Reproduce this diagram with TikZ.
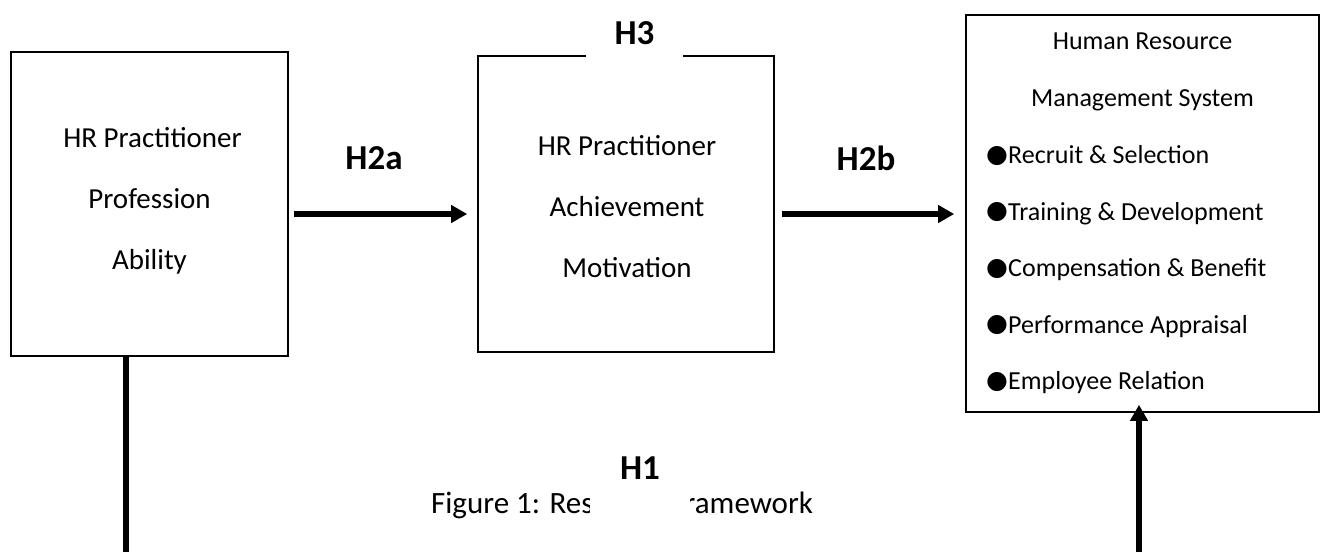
\documentclass[tikz,border=0pt]{standalone}
\usepackage{fontspec}
\setmainfont{Carlito}
\newfontfamily\dv{DejaVu Sans}
\usetikzlibrary{arrows.meta,positioning,calc}
\newcommand{\blt}{{\dv\fontsize{25}{25}\selectfont\makebox[20pt][l]{\hspace*{-2pt}\raisebox{1.5pt}{●}}}}
\begin{document}
\begin{tikzpicture}[x=1pt,y=-1pt,
  box/.style={draw=black, line width=1.6pt, minimum width=#1, inner sep=0pt},
  boxtext/.style={font=\fontsize{29}{61}\selectfont, align=center, inner sep=0pt},
  lbl/.style={font=\bfseries\fontsize{35}{35}\selectfont, inner sep=0pt},
  arr/.style={line width=5.5pt, -{Triangle[length=16pt,width=17pt]}},
  thick line/.style={line width=6pt}
]
\useasboundingbox (0,0) rectangle (1322,552);
% boxes
\node[box=277pt, minimum height=304pt] (lbox) at (149.5,204) {};
\node[box=296pt, minimum height=296pt] (mbox) at (626,204) {};
\node[box=353pt, minimum height=397pt] (rbox) at (1142.5,213.5) {};
% box texts
\node[boxtext] (ltext) at (149.5,201) {\hspace*{6pt}HR Practitioner\\Profession\\Ability};
\node[boxtext] (mtext) at (627,207) {HR Practitioner\\Achievement\\Motivation};
\node[font=\fontsize{26}{56.5}\selectfont, align=center, inner sep=0pt] (rhead) at (1142.5,72) {Human Resource\\Management System};
\node[font=\fontsize{26}{56.5}\selectfont, align=left, inner sep=0pt, anchor=west] (rlist) at (988,270)
  {\blt Recruit \& Selection\\\blt Training \& Development\\\blt Compensation \& Benefit\\\blt Performance Appraisal\\\blt Employee Relation};
% caption
\node[font=\fontsize{31}{31}\selectfont, inner sep=0pt] (cap) at (622,505) {Figure 1: Research Framework};
% labels
\node[lbl, fill=white, minimum width=97pt, text height=26pt, text depth=30pt, anchor=base] (h3) at (634.5,44) {H3};
\node[lbl, fill=white, minimum width=100pt, text height=26pt, text depth=44pt, anchor=base] (h1) at (640,479) {H1};
\node[lbl] (h2a) at (374,158) {H2a};
\node[lbl] (h2b) at (866,158) {H2b};
% connectors
\draw[arr] ([xshift=5pt,yshift=-10pt]lbox.east) -- ([xshift=-10pt,yshift=-10pt]mbox.west);
\draw[arr] ([xshift=7pt,yshift=-10pt]mbox.east) -- ([xshift=-11pt,yshift=-0.5pt]rbox.west);
\coordinate (lend) at (126,552);
\coordinate (rstart) at (1139,552);
\draw[thick line] (lbox.south -| lend) -- (lend);
\draw[arr] (rstart) -- ([yshift=8pt]rbox.south -| rstart);
\end{tikzpicture}
\end{document}
